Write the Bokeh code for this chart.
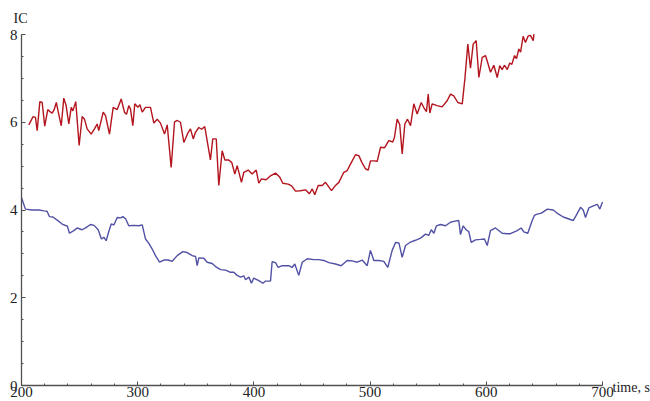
from bokeh.plotting import figure
from bokeh.models import FixedTicker, Label
from bokeh.embed import file_html
from bokeh.resources import INLINE

# Red series: IC over time
red_time = [206.3, 210, 212, 213.5, 215.8, 217.8, 220, 222.6, 224.5, 226.4, 228, 230, 231.2,
            234.2, 236.4, 238.4, 240.7, 242.8, 244.2, 246.7, 249.6, 252.2, 254.2, 256.5, 260,
            262.8, 265.1, 266.5, 270.3, 272.3, 275.7, 278.9, 282.4, 285.8, 288.6, 290.4, 292.3,
            293.8, 295.8, 297.5, 300.2, 301.9, 303.9, 306.7, 311, 313.9, 316.8, 319.6, 323.1,
            325.4, 328.8, 331.7, 334, 336.8, 339.7, 343.5, 345.4, 347.8, 349.7, 352.6, 355,
            357.7, 362.6, 364.6, 367.6, 369.8, 372.7, 375, 378.4, 381, 383.6, 385.6, 389.3,
            391.3, 395.1, 398.5, 402, 404.2, 406.5, 410.6, 414.3, 418.6, 422, 424.9, 429.5,
            432.5, 435.8, 440, 444.4, 447.8, 450.2, 452.4, 455.3, 458.8, 461.6, 466.8, 470.2,
            473.1, 477.4, 480.3, 483.8, 487.4, 490.3, 493, 496, 498.4, 500.3, 503.2, 506.1,
            509, 512.5, 516.1, 519.5, 521, 523.3, 525.5, 527.6, 529.9, 532.2, 534.8, 537.6,
            540.5, 544, 546.3, 548.5, 550, 551.4, 553.4, 557.7, 562, 566.3, 569.2, 572, 575.5,
            579.3, 581.6, 584.1, 586.4, 588.7, 591.3, 593.6, 596.5, 599.3, 601.3, 603.6, 606.5,
            609.4, 611.6, 613.6, 615.6, 618, 620.2, 622, 624.3, 626, 628, 629.5, 631.7, 633.7,
            636.1, 638, 640.4, 641]
red_ic = [5.94, 6.13, 6.11, 5.81, 6.47, 6.45, 5.91, 6.29, 6.24, 6.21, 6.28, 6.45, 6.29,
          5.92, 6.55, 6.38, 5.96, 6.34, 6.26, 6.47, 5.47, 6.13, 6.07, 5.85, 5.73,
          5.85, 5.96, 5.81, 6.23, 6.15, 5.73, 6.34, 6.29, 6.53, 6.23, 6.18, 6.38,
          6.3, 5.92, 6.42, 6.34, 6.40, 6.23, 6.34, 6.34, 5.98, 6.07, 5.98, 5.73,
          5.94, 4.97, 6.01, 6.04, 6.0, 5.54, 5.77, 5.85, 5.62, 5.77, 5.88, 5.84,
          5.9, 5.14, 5.62, 5.62, 4.56, 5.35, 5.14, 5.14, 5.08, 4.82, 5.01, 4.63,
          4.86, 4.91, 4.82, 4.91, 4.61, 4.71, 4.69, 4.78, 4.84, 4.76, 4.61, 4.59,
          4.55, 4.43, 4.44, 4.46, 4.37, 4.48, 4.35, 4.56, 4.56, 4.63, 4.44, 4.56,
          4.63, 4.86, 4.9, 5.08, 5.26, 5.24, 5.08, 4.94, 4.91, 5.12, 5.12, 5.11,
          5.43, 5.42, 5.58, 5.55, 5.66, 6.07, 5.95, 5.28, 5.96, 6.07, 5.92, 6.42,
          6.19, 6.45, 6.33, 6.24, 6.64, 6.21, 6.42, 6.38, 6.35, 6.49, 6.64, 6.6, 6.45,
          6.42, 7.0, 7.78, 7.23, 7.78, 7.86, 7.02, 7.48, 7.52, 7.35, 7.14, 7.3,
          7.02, 7.29, 7.2, 7.3, 7.2, 7.35, 7.32, 7.52, 7.45, 7.67, 7.6, 7.96, 7.82,
          7.97, 7.98, 7.86, 8.01]

# Blue series: IC over time
blue_time = [200, 203.4, 209, 214.9, 219.5, 222, 224, 227, 230.7, 235, 239.5, 241.3, 245,
             247.9, 252.2, 255.5, 259.4, 262.5, 266, 268.8, 270.8, 272.9, 275, 277.2, 279.5,
             282.4, 285.3, 287.2, 289.6, 292.3, 296.6, 300.9, 303.9, 306.7, 309.6, 312.5,
             315.3, 318.8, 322.5, 326.2, 329.7, 334, 338.8, 342.5, 346.9, 349.8, 351.2,
             352.6, 356.9, 359.8, 364.1, 367, 371.3, 375.6, 379.9, 382.7, 385.6, 388.5,
             391.3, 392.8, 395.7, 397.9, 399.9, 404.2, 407.7, 410, 414.3, 415.7, 418.6,
             420.9, 424.3, 430, 432.8, 435.2, 438.6, 441.6, 445.9, 451.5, 455.9, 460.2,
             464.5, 470.2, 475.1, 480.3, 484.6, 488.9, 493.2, 497.5, 500.3, 503.2, 507.5,
             511.8, 515.2, 519, 521.9, 524.8, 527.6, 530.5, 534.2, 539, 543.4, 547.7,
             550.5, 552.6, 554.9, 557.1, 560.5, 564.9, 569.2, 572, 576.3, 577.8, 580.1,
             582.9, 584.9, 587, 590.7, 595, 598.4, 600.8, 603.6, 607.9, 613.7, 618, 620.8,
             626.6, 630, 632.3, 635.7, 639.5, 641.5, 643.1, 647.4, 652.6, 657.6, 661.9,
             666.2, 670.5, 674.8, 677, 681.1, 683.4, 685.4, 688.3, 692.6, 695.5, 697.7, 700]
blue_ic = [4.28, 4.02, 4.0, 4.0, 3.98, 3.97, 3.85, 3.84, 3.77, 3.68, 3.63, 3.47, 3.53,
           3.59, 3.55, 3.6, 3.67, 3.65, 3.55, 3.34, 3.38, 3.3, 3.5, 3.68, 3.66,
           3.83, 3.82, 3.85, 3.8, 3.64, 3.65, 3.64, 3.66, 3.34, 3.24, 3.11,
           2.96, 2.81, 2.86, 2.86, 2.83, 2.96, 3.05, 3.03, 2.96, 2.94, 2.73,
           2.91, 2.9, 2.81, 2.78, 2.71, 2.64, 2.63, 2.58, 2.58, 2.51, 2.47,
           2.5, 2.41, 2.47, 2.33, 2.45, 2.39, 2.33, 2.38, 2.38, 2.82, 2.8,
           2.69, 2.73, 2.73, 2.69, 2.77, 2.51, 2.81, 2.89, 2.87, 2.87, 2.85,
           2.8, 2.77, 2.73, 2.85, 2.84, 2.81, 2.86, 2.73, 3.08, 2.85, 2.85,
           2.83, 2.69, 3.08, 3.26, 3.25, 2.92, 3.19, 3.26, 3.31, 3.36, 3.45,
           3.42, 3.55, 3.47, 3.64, 3.67, 3.64, 3.72, 3.74, 3.76, 3.44, 3.64,
           3.54, 3.51, 3.26, 3.32, 3.33, 3.34, 3.19, 3.53, 3.59, 3.47, 3.46, 3.46,
           3.53, 3.59, 3.5, 3.47, 3.76, 3.88, 3.9, 3.93, 4.02, 4.0, 3.91,
           3.84, 3.8, 3.76, 3.86, 4.06, 4.0, 3.83, 4.05, 4.1, 4.13, 4.02, 4.18]

x_major = [200, 300, 400, 500, 600, 700]
x_minor = list(range(200, 701, 20))
y_major = [0, 2, 4, 6, 8]
y_minor = [0.5 * i for i in range(17)]

SERIF = "Liberation Serif"
AXIS_COLOR = "#505050"
TEXT_COLOR = "#222222"

W, H = 650, 401
# axes box inside the canvas (pixels): left, right, top, bottom
BOX_L, BOX_R, BOX_T, BOX_B = 21, 602, 34, 385
T0, T1, V0, V1 = 200, 700, 0, 8
kx = (BOX_R - BOX_L) / (T1 - T0)
ky = (BOX_B - BOX_T) / (V1 - V0)

# The frame fills the whole canvas so that the corner captions are not clipped;
# the axes are pinned at t=200 and IC=0 and bounded to the data box.
p = figure(width=W, height=H,
           x_range=(T0 - BOX_L / kx, T1 + (W - BOX_R) / kx),
           y_range=(V0 - (H - BOX_B) / ky, V1 + BOX_T / ky),
           output_backend="svg", toolbar_location=None, min_border=0)
p.outline_line_color = None
p.grid.visible = False
p.background_fill_color = "white"
p.border_fill_color = "white"

p.line(red_time, red_ic, line_color="#B3141D", line_width=1.4)
p.line(blue_time, blue_ic, line_color="#5151A5", line_width=1.4)

p.xaxis.ticker = FixedTicker(ticks=x_major, minor_ticks=x_minor)
p.yaxis.ticker = FixedTicker(ticks=y_major, minor_ticks=y_minor)
p.xaxis.fixed_location = V0
p.yaxis.fixed_location = T0
p.xaxis.bounds = (T0, T1)
p.yaxis.bounds = (V0, V1)

for ax in (p.xaxis[0], p.yaxis[0]):
    ax.axis_line_color = AXIS_COLOR
    ax.axis_line_width = 1.3
    ax.major_tick_line_color = AXIS_COLOR
    ax.minor_tick_line_color = AXIS_COLOR
    ax.major_tick_in = 4
    ax.major_tick_out = 0
    ax.minor_tick_in = 2
    ax.minor_tick_out = 0
    ax.major_label_text_font = SERIF
    ax.major_label_text_font_size = "15px"
    ax.major_label_text_color = TEXT_COLOR

p.yaxis.major_label_standoff = 4
p.xaxis.major_label_standoff = 1

# axis captions: "IC" above the top of the y axis, "time, s" past the end of the x axis
p.add_layout(Label(x=T0, y=V1, x_offset=-8, y_offset=9, text="IC",
                   text_font=SERIF, text_font_size="14px", text_color=TEXT_COLOR,
                   text_baseline="bottom", text_align="left"))
p.add_layout(Label(x=T1, y=V0, x_offset=10, y_offset=-2, text="time, s",
                   text_font=SERIF, text_font_size="14px", text_color=TEXT_COLOR,
                   text_baseline="middle", text_align="left"))

open("out.html", "w").write(file_html(p, INLINE))
